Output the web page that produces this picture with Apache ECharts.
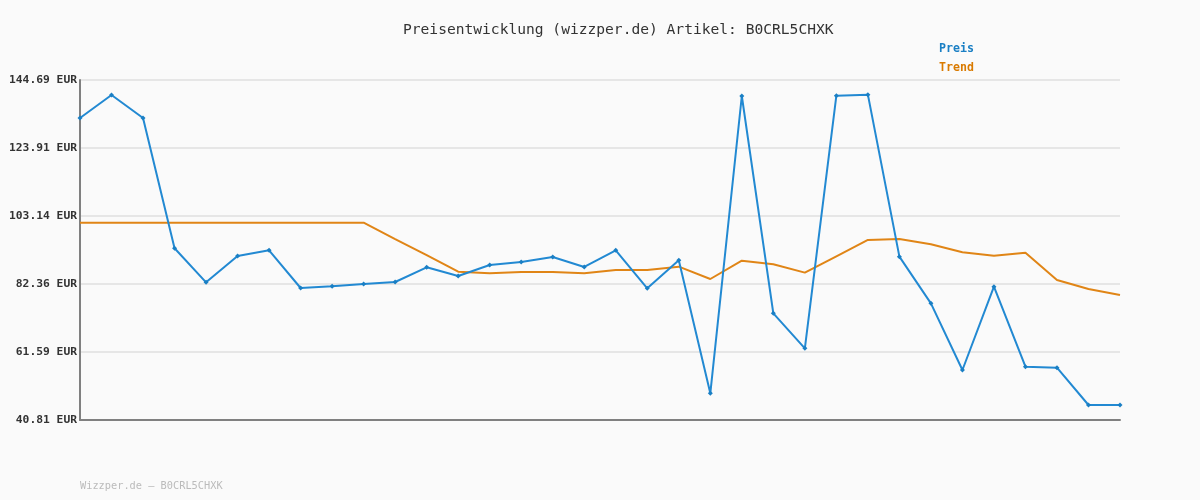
<!DOCTYPE html>
<html><head><meta charset="utf-8">
<script src="https://cdn.jsdelivr.net/npm/echarts@6/dist/echarts.min.js"></script>
<style>html,body{margin:0;padding:0;background:#fafafa}#c{width:1200px;height:500px}</style>
</head><body><div id="c"></div>
<script>
const categories = Array.from({length: 34}, (_, i) => 'P' + (i + 1));
const preis = [133.08, 140.11, 133.08, 93.27, 82.87, 90.92, 92.66, 81.14, 81.66, 82.36,
  82.97, 87.46, 84.81, 88.17, 89.08, 90.61, 87.56, 92.66, 81.05, 89.60,
  48.96, 139.80, 73.40, 62.71, 139.90, 140.21, 90.72, 76.45, 56.09, 81.55,
  57.10, 56.80, 45.39, 45.39];
const trend = [101.09, 101.09, 101.09, 101.09, 101.09, 101.09, 101.09, 101.09, 101.09, 101.09,
  96.1, 91.2, 86.12, 85.63, 86.03, 86.03, 85.63, 86.64, 86.64, 87.66,
  83.89, 89.49, 88.38, 85.84, 90.83, 95.81, 96.11, 94.49, 92.05, 91.01,
  91.93, 83.58, 80.84, 79.00];
const yTicks = [40.81, 61.59, 82.36, 103.14, 123.91, 144.69];
const titleText = 'Preisentwicklung (wizzper.de) Artikel: B0CRL5CHXK';
const footerText = 'Wizzper.de – B0CRL5CHXK';

const mono = '"DejaVu Sans Mono", "Liberation Mono", monospace';
const chart = echarts.init(document.getElementById('c'));
chart.setOption({
  backgroundColor: '#fafafa',
  animation: false,
  title: {
    text: titleText, left: 398, top: 18,
    textStyle: {fontFamily: mono, fontSize: 14.6, fontWeight: 'normal', color: '#333'}
  },
  legend: {
    orient: 'vertical', left: 929, top: 38, itemWidth: 0, itemHeight: 0, itemGap: 7,
    icon: 'none',
    data: [
      {name: 'Preis', textStyle: {color: '#1a7fc4'}},
      {name: 'Trend', textStyle: {color: '#d97a00'}}
    ],
    textStyle: {fontFamily: mono, fontSize: 11.6, fontWeight: 'bold'},
    selectedMode: false
  },
  graphic: [{
    type: 'text', left: 80, top: 481,
    style: {text: footerText, fontFamily: mono, fontSize: 10.3, fill: '#bbb'}
  }],
  grid: {left: 80, right: 80, top: 80, bottom: 80, containLabel: false},
  xAxis: {
    type: 'category', data: categories, boundaryGap: false,
    axisLine: {lineStyle: {color: '#808080', width: 2}},
    axisTick: {show: false}, axisLabel: {show: false}, splitLine: {show: false}
  },
  yAxis: {
    type: 'value', min: 40.81, max: 144.69,
    axisLine: {show: true, lineStyle: {color: '#808080', width: 2}},
    axisTick: {show: false, customValues: yTicks},
    axisLabel: {
      customValues: yTicks, margin: 3,
      formatter: v => v.toFixed(2) + ' EUR',
      fontFamily: mono, fontSize: 11.3, fontWeight: 'bold', color: '#333'
    },
    splitLine: {show: true, lineStyle: {color: '#e6e6e6', width: 2}}
  },
  series: [
    {
      name: 'Preis', type: 'line', data: preis,
      symbol: 'diamond', symbolSize: 5, showSymbol: true,
      lineStyle: {color: '#2289d2', width: 2},
      itemStyle: {color: '#1a7fc4'}, z: 3
    },
    {
      name: 'Trend', type: 'line', data: trend,
      symbol: 'none',
      lineStyle: {color: '#e08516', width: 2},
      itemStyle: {color: '#d97a00'}, z: 2
    }
  ]
});
</script></body></html>
